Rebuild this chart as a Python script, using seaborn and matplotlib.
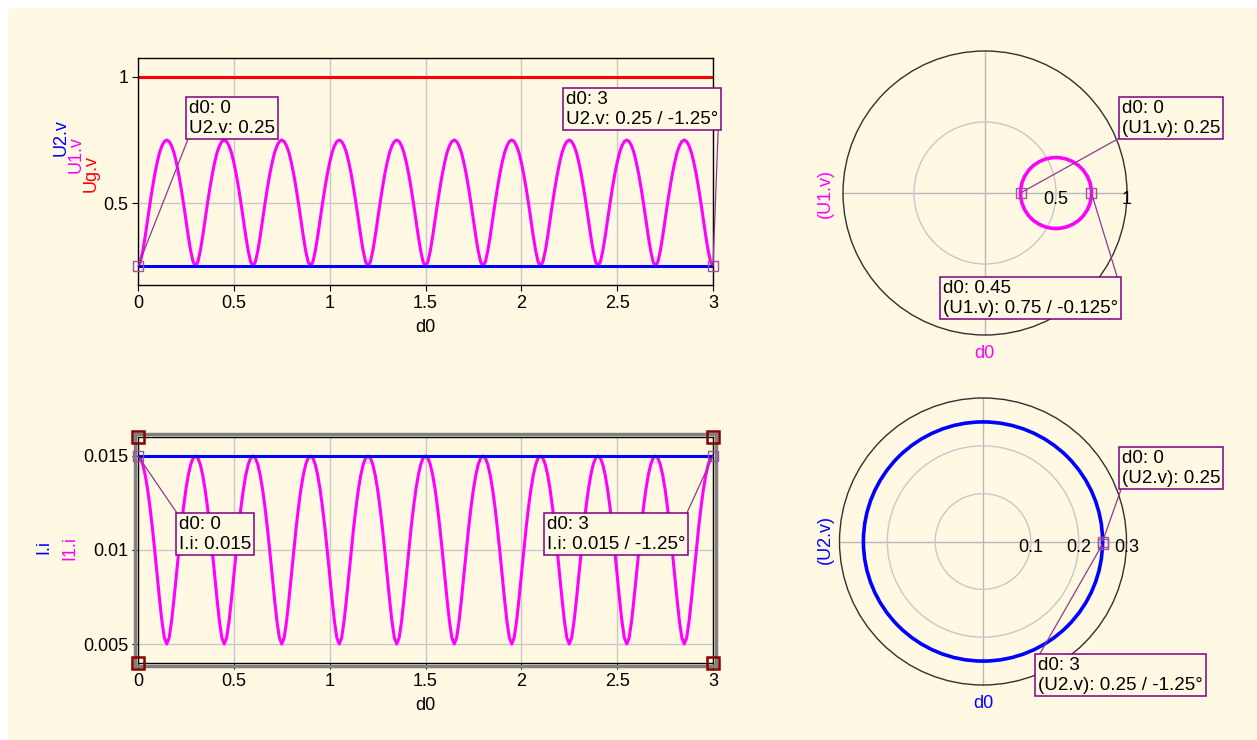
import numpy as np
import pandas as pd
import matplotlib
matplotlib.use("Agg")
import matplotlib.pyplot as plt
from matplotlib.patches import Circle, Rectangle
from matplotlib.ticker import FormatStrFormatter
import seaborn as sns

# --- data -------------------------------------------------------------------
d0_step = 0.0125
n_periods = 10

# one period (0 .. 0.3) of U1.v, sampled every 0.0125
u1_period = [0.25, 0.267, 0.31, 0.368, 0.433, 0.498, 0.559, 0.614, 0.661, 0.70, 0.727, 0.744,
             0.75, 0.744, 0.727, 0.70, 0.661, 0.614, 0.559, 0.498, 0.433, 0.368, 0.31, 0.267]
# one period of I1.i
i1_period = [0.015, 0.01489, 0.01455, 0.01399, 0.01323, 0.01228, 0.01118, 0.00996, 0.00866,
             0.00737, 0.0062, 0.00533, 0.005, 0.00533, 0.0062, 0.00737, 0.00866, 0.00996,
             0.01118, 0.01228, 0.01323, 0.01399, 0.01455, 0.01489]
ug_level = 1.0
u2_level = 0.25
i_level = 0.015

# polar loci
u1_locus_center = 0.5
u1_locus_radius = 0.25
u2_locus_radius = 0.25
u1_polar_ticks = [0.5, 1]
u2_polar_ticks = [0.1, 0.2, 0.3]

# cursor markers
top_marker_d0 = [0, 3]
top_marker_u2 = [0.25, 0.25]
bot_marker_d0 = [0, 3]
bot_marker_i = [0.015, 0.015]
u1_marker_mag = [0.25, 0.75]
u1_marker_deg = [0.0, -0.125]
u2_marker_mag = [0.25, 0.25]
u2_marker_deg = [0.0, -1.25]

n = n_periods * len(u1_period)
d0 = np.arange(n + 1) * d0_step
df = pd.DataFrame({
    "d0": d0,
    "Ug.v": ug_level,
    "U1.v": np.append(np.tile(u1_period, n_periods), u1_period[0]),
    "U2.v": u2_level,
    "I.i": i_level,
    "I1.i": np.append(np.tile(i1_period, n_periods), i1_period[0]),
})

# --- style -------------------------------------------------------------------
sns.set_theme(style="ticks")
plt.rcParams["font.family"] = ["Liberation Sans", "DejaVu Sans"]
plt.rcParams["axes.unicode_minus"] = False

BG = "#FFF8E2"
MAG = "#FF00FF"
BLUE = "#0000FF"
RED = "#FF0000"
GRID = "#C8C8C8"
PURPLE = "#800080"
LEADER = "#8E3A8E"
FS = 13

W, H = 1257, 740
fig = plt.figure(figsize=(W / 100, H / 100), dpi=100, facecolor=BG)
fig.add_artist(Rectangle((0, 1 - 7 / H), 1, 7 / H, transform=fig.transFigure, color="white", zorder=0))
fig.add_artist(Rectangle((0, 0), 7 / W, 1, transform=fig.transFigure, color="white", zorder=0))


def px_axes(left, top, right, bottom):
    return fig.add_axes([left / W, 1 - bottom / H, (right - left) / W, (bottom - top) / H])


def style_line_axes(ax):
    ax.set_facecolor(BG)
    ax.grid(True, color=GRID, lw=1)
    for s in ax.spines.values():
        s.set_color("black")
        s.set_linewidth(1)
    ax.tick_params(direction="out", length=4, width=0.8, colors="black", labelsize=FS, pad=3)
    ax.xaxis.set_major_formatter(FormatStrFormatter("%g"))
    ax.yaxis.set_major_formatter(FormatStrFormatter("%g"))
    ax.set_xlim(0, 3)
    ax.set_xticks([0, 0.5, 1, 1.5, 2, 2.5, 3])
    ax.set_ylabel("")
    ax.set_xlabel("d0", fontsize=FS, color="black", labelpad=5)


def box(ax, text, xy, left, top, relpos):
    ax.annotate(text, xy=xy, xycoords="data", xytext=(left + 3, H - top - 3),
                textcoords="figure pixels", ha="left", va="top", fontsize=13.5, color="black",
                bbox=dict(boxstyle="square,pad=0.15", fc=BG, ec=PURPLE, lw=1.1),
                arrowprops=dict(arrowstyle="-", color=LEADER, lw=0.9, relpos=relpos,
                                shrinkA=0, shrinkB=0),
                annotation_clip=False, zorder=10)


def vlabel(x, y, text, color):
    fig.text(x / W, 1 - y / H, text, rotation=90, color=color, fontsize=FS, ha="center", va="center")


# --- top left: voltages -------------------------------------------------------
ax1 = px_axes(138, 58, 713, 285)
sns.lineplot(data=df, x="d0", y="Ug.v", ax=ax1, color=RED, lw=2.2)
sns.lineplot(data=df, x="d0", y="U1.v", ax=ax1, color=MAG, lw=2.2)
sns.lineplot(data=df, x="d0", y="U2.v", ax=ax1, color=BLUE, lw=2.2)
style_line_axes(ax1)
ax1.set_ylim(0.175, 1.075)
ax1.set_yticks([0.5, 1])
ax1.plot(top_marker_d0, top_marker_u2, "s", mfc="none", mec="#A050A0", ms=7, mew=1, clip_on=False, zorder=5)
box(ax1, "d0: 0\nU2.v: 0.25", (top_marker_d0[0], top_marker_u2[0]), 186, 97, (0, 0))
box(ax1, "d0: 3\nU2.v: 0.25 / -1.25°", (top_marker_d0[1], top_marker_u2[1]), 563, 88, (1, 0))
vlabel(61, 138, "U2.v", BLUE)
vlabel(76, 155, "U1.v", MAG)
vlabel(91, 173, "Ug.v", RED)

# --- bottom left: currents ----------------------------------------------------
ax2 = px_axes(138, 437, 713, 663)
sns.lineplot(data=df, x="d0", y="I1.i", ax=ax2, color=MAG, lw=2.2)
sns.lineplot(data=df, x="d0", y="I.i", ax=ax2, color=BLUE, lw=2.2)
style_line_axes(ax2)
ax2.set_ylim(0.00399, 0.01601)
ax2.set_yticks([0.005, 0.01, 0.015])
ax2.add_patch(Rectangle((-0.0055, -0.0135), 1.011, 1.027, transform=ax2.transAxes, fill=False,
                        ec="#808080", lw=2.5, clip_on=False, zorder=4))
ax2.plot([0, 1, 0, 1], [0, 0, 1, 1], "s", transform=ax2.transAxes, mfc="none", mec="#8B0000",
         ms=8, mew=1.8, clip_on=False, zorder=6)
ax2.plot(bot_marker_d0, bot_marker_i, "s", mfc="none", mec="#A050A0", ms=7, mew=1, clip_on=False, zorder=5)
box(ax2, "d0: 0\nI.i: 0.015", (bot_marker_d0[0], bot_marker_i[0]), 176, 513, (0, 1))
box(ax2, "d0: 3\nI.i: 0.015 / -1.25°", (bot_marker_d0[1], bot_marker_i[1]), 544, 513, (1, 1))
vlabel(44, 547, "I.i", BLUE)
vlabel(70, 548, "I1.i", MAG)


# --- polar panels -------------------------------------------------------------
def polar_axes(cx, cy, r_px, rmax, ticks):
    half = 1.06 * r_px
    ax = px_axes(cx - half, cy - half, cx + half, cy + half)
    lim = 1.06 * rmax
    ax.set_xlim(-lim, lim)
    ax.set_ylim(-lim, lim)
    ax.axis("off")
    ax.plot([-rmax, rmax], [0, 0], color="#B8B8B8", lw=1, zorder=1)
    ax.plot([0, 0], [-rmax, rmax], color="#B8B8B8", lw=1, zorder=1)
    for t in ticks[:-1]:
        ax.add_patch(Circle((0, 0), t, fill=False, ec=GRID, lw=1, zorder=1))
    ax.add_patch(Circle((0, 0), rmax, fill=False, ec="#303030", lw=1, zorder=1))
    for t in ticks:
        ax.annotate(f"{t:g}", (t, 0), xytext=(0, -6), textcoords="offset pixels",
                    ha="center", va="center", fontsize=FS, color="black", zorder=3)
    return ax


ax3 = polar_axes(985, 193, 142, 1.0, u1_polar_ticks)
ax3.add_patch(Circle((u1_locus_center, 0), u1_locus_radius, fill=False, ec=MAG, lw=2.6, zorder=2))
a = np.deg2rad(u1_marker_deg)
mx, my = np.array(u1_marker_mag) * np.cos(a), np.array(u1_marker_mag) * np.sin(a)
ax3.plot(mx, my, "s", mfc="none", mec="#A050A0", ms=7, mew=1, zorder=5)
box(ax3, "d0: 0\n(U1.v): 0.25", (mx[0], my[0]), 1119, 97, (0, 0))
box(ax3, "d0: 0.45\n(U1.v): 0.75 / -0.125°", (mx[1], my[1]), 940, 277, (1, 1))
vlabel(825, 193, "(U1.v)", MAG)
fig.text(984 / W, 1 - 353 / H, "d0", color=MAG, fontsize=FS, ha="center", va="center")

ax4 = polar_axes(983, 541.5, 143.5, 0.3, u2_polar_ticks)
ax4.add_patch(Circle((0, 0), u2_locus_radius, fill=False, ec=BLUE, lw=2.6, zorder=2))
a = np.deg2rad(u2_marker_deg)
mx, my = np.array(u2_marker_mag) * np.cos(a), np.array(u2_marker_mag) * np.sin(a)
ax4.plot(mx, my, "s", mfc="none", mec="#A050A0", ms=7, mew=1, zorder=5)
box(ax4, "d0: 0\n(U2.v): 0.25", (mx[0], my[0]), 1119, 447, (0, 0))
box(ax4, "d0: 3\n(U2.v): 0.25 / -1.25°", (mx[1], my[1]), 1035, 654, (0, 1))
vlabel(825, 540, "(U2.v)", BLUE)
fig.text(983 / W, 1 - 703 / H, "d0", color=BLUE, fontsize=FS, ha="center", va="center")

fig.savefig("out.png", dpi=100, facecolor=BG)
